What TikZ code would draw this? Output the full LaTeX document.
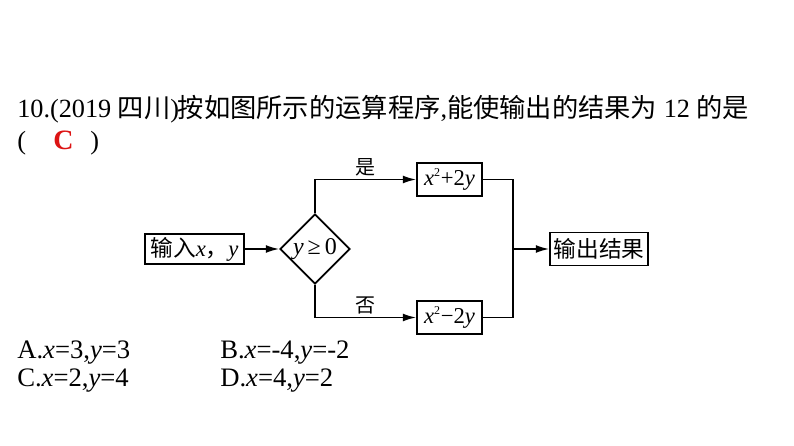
\documentclass[tikz,border=0pt]{standalone}
\usepackage{fontspec}
\setmainfont{Liberation Serif}
\newfontfamily\cjk{Noto Sans CJK SC}
\usetikzlibrary{shapes.geometric,arrows.meta}
\definecolor{ansred}{RGB}{220,20,20}
\begin{document}
\begin{tikzpicture}[x=0.75pt,y=-0.75pt,
  box/.style={draw,line width=1.3pt,inner sep=0pt,font=\fontsize{17}{19}\selectfont},
  dia/.style={draw,diamond,aspect=1,line width=1.3pt,inner sep=0pt,minimum width=52.5pt,minimum height=52.5pt,font=\fontsize{18}{20}\selectfont},
  conn/.style={line width=1.3pt},
  arr/.style={conn,-{Latex[length=10pt,width=6pt]}},
  lbl/.style={font=\fontsize{15}{17}\selectfont\cjk,inner sep=2pt},
  txt/.style={inner sep=0pt,anchor=base west}]
\useasboundingbox (0,0) rectangle (794,446);
\node[txt,font=\fontsize{19.7}{22}\selectfont] (title) at (17,117)
  {10.(2019 {\cjk 四川})\kern-1pt{\cjk 按如图所示的运算程序},{\cjk 能使输出的结果为} 12 {\cjk 的是}};
\node[txt,font=\fontsize{19.7}{22}\selectfont] (lp) at (17,149) {(};
\node[txt,font=\fontsize{21}{22}\selectfont\bfseries,text=ansred] (ans) at (53,149) {C};
\node[txt,font=\fontsize{19.7}{22}\selectfont] (rp) at (90,149) {)};

\node[box,minimum width=74.25pt,minimum height=22.5pt] (in) at (194.5,249) {{\cjk 输入}\textit{x}{\cjk ，}\textit{y}};
\node[dia] (d) at (315,249) {\textit{y}\,≥\,0};
\node[box,minimum width=48.75pt,minimum height=24.75pt] (up) at (449.5,179.5) {\textit{x}\textsuperscript{\fontsize{9}{9}\selectfont 2}+2\textit{y}};
\node[box,minimum width=48.75pt,minimum height=24.75pt] (lo) at (449.5,317.5) {\textit{x}\textsuperscript{\fontsize{9}{9}\selectfont 2}−2\textit{y}};
\node[box,minimum width=73.5pt,minimum height=24.75pt] (out) at (599,249) {\cjk 输出结果};
\coordinate (j) at (513,249);

\draw[arr] (in.east) -- (d.west);
\draw[arr] (d.north) |- node[lbl,pos=0.75,above] {是} (up.west);
\draw[arr] (d.south) |- node[lbl,pos=0.75,above] {否} (lo.west);
\draw[conn] (up.east) -| (j) |- (lo.east);
\draw[arr] (j) -- (out.west);

\node[txt,font=\fontsize{20}{22}\selectfont] (oa) at (17,358) {A.\textit{x}=3,\textit{y}=3};
\node[txt,font=\fontsize{20}{22}\selectfont] (ob) at (220,358) {B.\textit{x}=-4,\textit{y}=-2};
\node[txt,font=\fontsize{20}{22}\selectfont] (oc) at (17,386) {C.\textit{x}=2,\textit{y}=4};
\node[txt,font=\fontsize{20}{22}\selectfont] (od) at (220,386) {D.\textit{x}=4,\textit{y}=2};
\end{tikzpicture}
\end{document}
